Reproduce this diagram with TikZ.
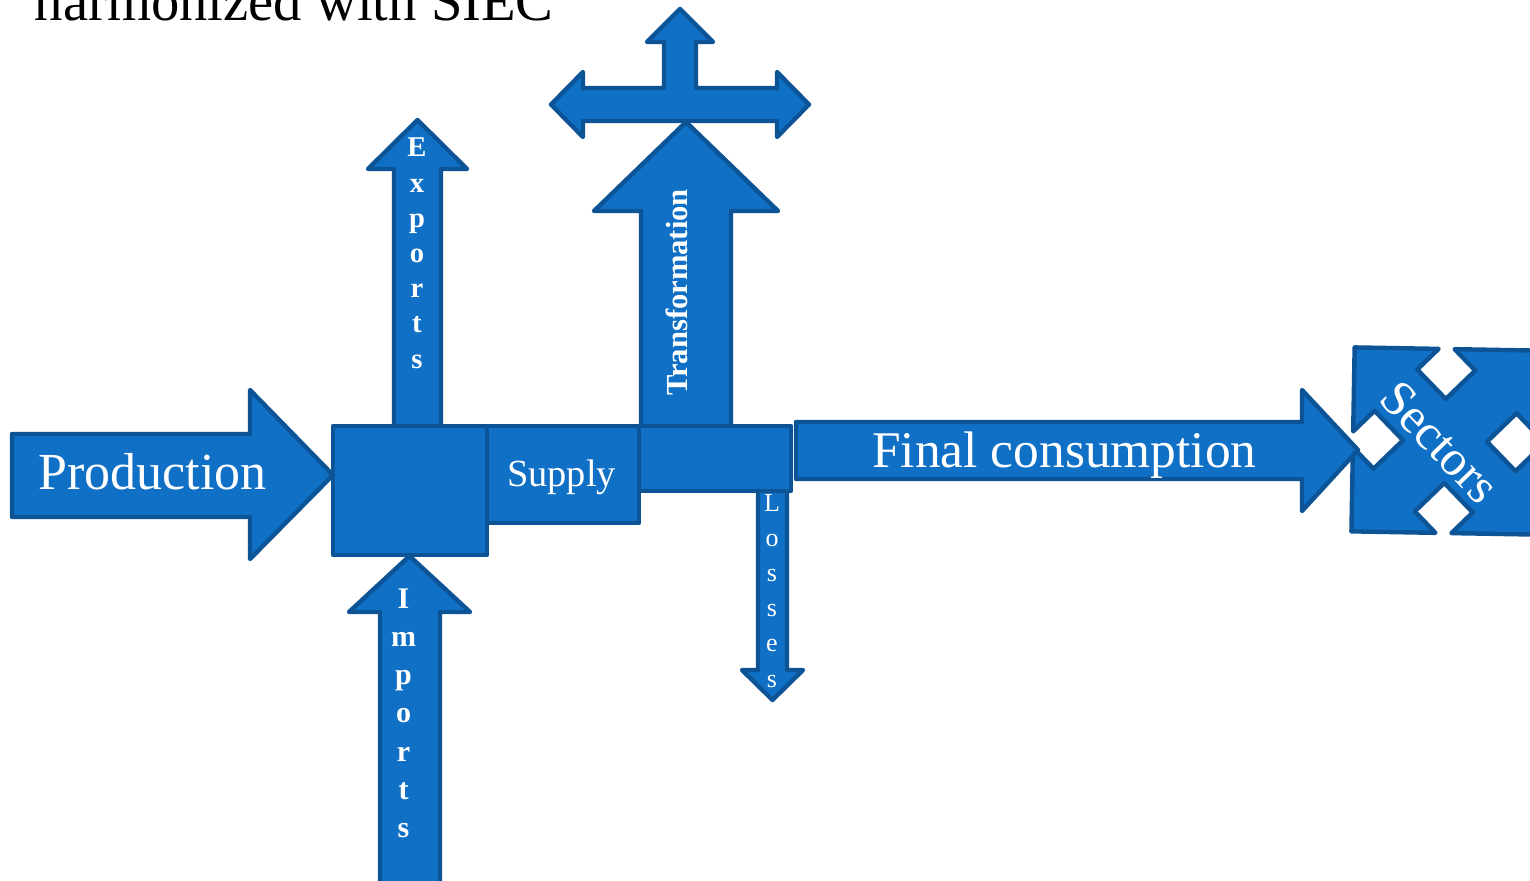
\documentclass[tikz,border=0pt]{standalone}
\usepackage{fontspec}
\setmainfont{Liberation Serif}
\definecolor{arrfill}{RGB}{16,112,198}
\definecolor{arredge}{RGB}{12,84,150}
\tikzset{
  blueshape/.style={fill=arrfill, draw=arredge, line width=2.2pt, line join=round},
  lbl/.style={text=white, inner sep=0pt},
}
\begin{document}
\begin{tikzpicture}[x=0.5pt,y=-0.5pt]
\useasboundingbox[fill=white] (0,0) rectangle (1530,881);
% title (cut off at the top)
\node[anchor=base west, inner sep=0pt, font=\fontsize{28.3pt}{32pt}\selectfont] (title) at (34.5,21) {harmonized with SIEC};
% Exports arrow
\draw[blueshape] (394,425) -- (394,169) -- (368,169) -- (417.5,120) -- (467,169) -- (441,169) -- (441,425);
% Imports arrow
\draw[blueshape] (380,895) -- (380,612) -- (349,612) -- (409.5,556) -- (470,612) -- (440,612) -- (440,895);
% Transformation arrow
\draw[blueshape] (641,426) -- (641,211) -- (594,211) -- (686,122) -- (778,211) -- (731,211) -- (731,426);
% Losses arrow
\draw[blueshape] (758,491) -- (758,670) -- (742,670) -- (772.5,700) -- (803,670) -- (787,670) -- (787,491);
% Production arrow
\draw[blueshape] (12,434) -- (250,434) -- (250,390) -- (333,475) -- (250,559) -- (250,517) -- (12,517) -- cycle;
% central boxes
\draw[blueshape] (333,426) rectangle (487,555);
\draw[blueshape] (487,426) rectangle (639,523);
\draw[blueshape] (639,426) rectangle (791,491);
% Sectors shape
\begin{scope}[shift={(1445,441)}, rotate=-1]
\draw[blueshape] (-92,-92) -- (-8,-92) -- (-29,-71) -- (0,-42) -- (29,-71) -- (8,-92) -- (92,-92)
  -- (92,-8) -- (71,-29) -- (42,0) -- (71,29) -- (92,8) -- (92,92)
  -- (8,92) -- (29,71) -- (0,42) -- (-29,71) -- (-8,92) -- (-92,92)
  -- (-92,8) -- (-71,29) -- (-42,0) -- (-71,-29) -- (-92,-8) -- cycle;
\end{scope}
% Final consumption arrow
\draw[blueshape] (796,422) -- (1302,422) -- (1302,390) -- (1358,450) -- (1302,511) -- (1302,479) -- (796,479) -- cycle;
% top cross arrow
\draw[blueshape] (680,9) -- (713,42) -- (696,42) -- (696,88) -- (777,88) -- (777,72) -- (809,104.5) -- (777,137) -- (777,121)
  -- (583,121) -- (583,137) -- (551,104.5) -- (583,72) -- (583,88) -- (664,88) -- (664,42) -- (647,42) -- cycle;
% labels
\node[lbl, anchor=base west, font=\fontsize{26pt}{30pt}\selectfont] (prod) at (38,490) {Production};
\node[lbl, anchor=base, font=\fontsize{19.2pt}{22pt}\selectfont] (supply) at (561.5,487) {Supply};
\node[lbl, anchor=base west, font=\fontsize{25.7pt}{30pt}\selectfont] (finalc) at (872,468) {Final consumption};
\node[lbl, anchor=base, rotate=90, font=\bfseries\fontsize{15.3pt}{18pt}\selectfont] (transf) at (687,292.5) {Transformation};
\node[lbl, rotate=-46, font=\fontsize{25pt}{30pt}\selectfont] (sect) at (1440,442) {Sectors};
\foreach \ch [count=\i from 0] in {E,x,p,o,r,t,s}
  \node[lbl, anchor=base, font=\bfseries\fontsize{14.3pt}{17pt}\selectfont] (exp\i) at (417,157+35.2*\i) {\ch};
\foreach \ch [count=\i from 0] in {I,m,p,o,r,t,s}
  \node[lbl, anchor=base, font=\bfseries\fontsize{15pt}{18pt}\selectfont] (imp\i) at (403.5,608+38.3*\i) {\ch};
\foreach \ch [count=\i from 0] in {L,o,s,s,e,s}
  \node[lbl, anchor=base, font=\fontsize{13pt}{16pt}\selectfont] (los\i) at (772,511+35.2*\i) {\ch};
\end{tikzpicture}
\end{document}
